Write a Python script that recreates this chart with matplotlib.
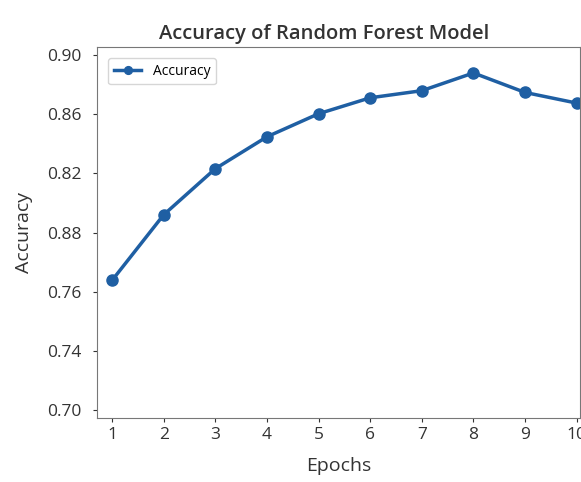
import numpy as np
import matplotlib.pyplot as plt

plt.rcParams['font.family'] = ['Open Sans', 'DejaVu Sans']

epochs = [1, 2, 3, 4, 5, 6, 7, 8, 9, 10]
accuracy = [0.773, 0.810, 0.836, 0.854, 0.867, 0.876, 0.880, 0.890, 0.879, 0.873]

# tick labels as printed on the original chart
ytick_pos = np.linspace(0.70, 0.90, 7)
ytick_labels = ['0.70', '0.74', '0.76', '0.88', '0.82', '0.86', '0.90']

fig = plt.figure(figsize=(5.81, 4.82), dpi=100)
ax = fig.add_axes([0.167, 0.133, 0.831, 0.769])

ax.plot(epochs, accuracy, '-o', color='#1f5fa3', linewidth=2.5, markersize=8,
        label='Accuracy')

ax.set_xlim(0.71, 10.06)
ax.set_ylim(0.6955, 0.9045)
ax.set_xticks(epochs)
ax.set_yticks(ytick_pos)
ax.set_yticklabels(ytick_labels)
ax.tick_params(labelsize=12.5, colors='#333333', length=3)
ax.tick_params(axis='y', pad=8)

for s in ax.spines.values():
    s.set_color('#777777')

ax.set_xlabel('Epochs', fontsize=14, color='#333333', labelpad=10)
ax.set_ylabel('Accuracy', fontsize=14, color='#333333', labelpad=10)
ax.set_title('Accuracy of Random Forest Model', fontsize=14.5, color='#333333',
             fontweight='semibold', pad=6, x=0.47)

ax.legend(loc='upper left', fontsize=10, frameon=True, edgecolor='#cccccc',
          markerscale=0.7, borderaxespad=0.8)

fig.savefig('out.png', dpi=100)
